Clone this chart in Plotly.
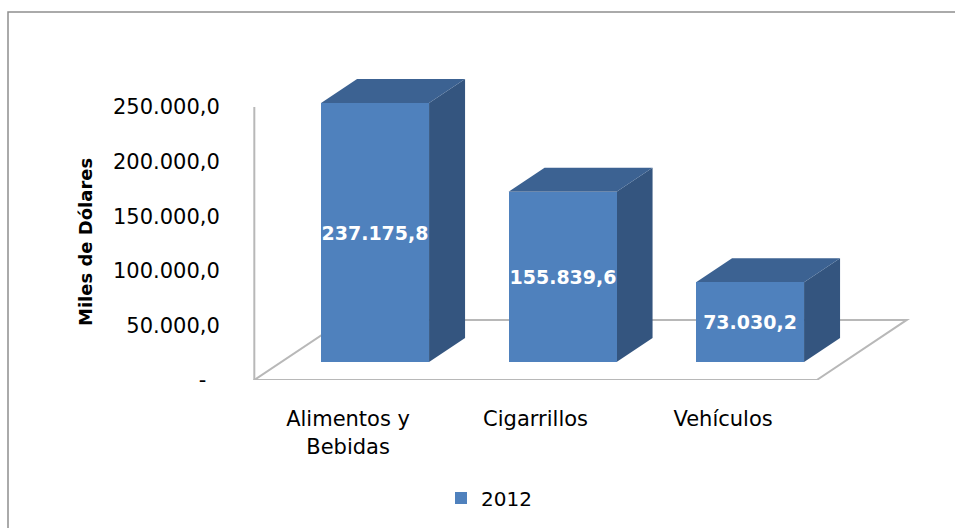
import plotly.graph_objects as go

# ---- data -------------------------------------------------------------
categories = ["Alimentos y<br>Bebidas", "Cigarrillos", "Vehículos"]
values = [237175.8, 155839.6, 73030.2]
series_name = "2012"
y_tick_values = [0, 50000, 100000, 150000, 200000, 250000]
y_tick_labels = ["-\u00a0\u00a0", "50.000,0", "100.000,0", "150.000,0", "200.000,0", "250.000,0"]
y_title = "Miles de Dólares"

# ---- styling / pseudo-3D geometry --------------------------------------
FRONT = "#4F81BD"
SIDE = "#34557F"
TOP = "#3C6292"
FLOOR = "#b8b8b8"
FONT = "DejaVu Sans"

FLOOR_DX = 0.48      # depth of the floor, x units
FLOOR_DY = 55000     # depth of the floor, y units
BAR_FRONT = 0.3      # bar front plane as a fraction of floor depth
BAR_BACK = 0.7       # bar back plane as a fraction of floor depth
BAR_W = 0.576

W, H = 955, 528
ML, MR, MT, MB = 253, 45, 60, 148
PW, PH = W - ML - MR, H - MT - MB
X_RANGE = [-0.507, 2.997]
Y_RANGE = [0, 293040]


def es_num(v):
    s = f"{v:,.1f}"
    return s.replace(",", "_").replace(".", ",").replace("_", ".")


x_pos = list(range(len(values)))
base = BAR_FRONT * FLOOR_DY
off_x = BAR_FRONT * FLOOR_DX
dx = (BAR_BACK - BAR_FRONT) * FLOOR_DX
dy = (BAR_BACK - BAR_FRONT) * FLOOR_DY

fig = go.Figure()
fig.add_trace(go.Bar(
    x=x_pos, y=values, base=base,
    width=BAR_W, offset=off_x - BAR_W / 2,
    marker=dict(color=FRONT, line=dict(width=0)),
    name=series_name,
    text=[es_num(v) for v in values],
    textposition="inside", insidetextanchor="middle",
    textangle=0, constraintext="none",
    textfont=dict(family=FONT, size=19, color="white", weight="bold"),
    hoverinfo="skip",
))

shapes = []

# floor and wall edge
x_lo, x_hi = -0.5, len(values) - 0.5
line = dict(color=FLOOR, width=2)
shapes.append(dict(type="path", layer="below", line=line,
                   path=(f"M{x_lo},0 L{x_hi},0 L{x_hi + FLOOR_DX},{FLOOR_DY} "
                         f"L{x_lo + FLOOR_DX},{FLOOR_DY} Z")))
shapes.append(dict(type="line", layer="below", line=line,
                   x0=x_lo, x1=x_lo, y0=0, y1=y_tick_values[-1]))

# side and top faces of each bar
for x, v in zip(x_pos, values):
    xl = x + off_x - BAR_W / 2
    xr = xl + BAR_W
    top = base + v
    shapes.append(dict(type="path", layer="below", fillcolor=SIDE, line=dict(width=0),
                       path=(f"M{xr},{base} L{xr + dx},{base + dy} "
                             f"L{xr + dx},{top + dy} L{xr},{top} Z")))
    shapes.append(dict(type="path", layer="below", fillcolor=TOP, line=dict(width=0),
                       path=(f"M{xl},{top} L{xr},{top} "
                             f"L{xr + dx},{top + dy} L{xl + dx},{top + dy} Z")))

# chart-area frame
shapes.append(dict(type="rect", xref="paper", yref="paper", layer="below",
                   x0=(8 - ML) / PW, x1=(W + 10 - ML) / PW,
                   y0=(MT + PH - (H + 10)) / PH, y1=(MT + PH - 12) / PH,
                   line=dict(color="#8f8f8f", width=1.5)))

fig.update_layout(
    width=W, height=H,
    margin=dict(l=ML, r=MR, t=MT, b=MB, autoexpand=False),
    paper_bgcolor="white", plot_bgcolor="rgba(0,0,0,0)",
    font=dict(family=FONT, size=21, color="black"),
    shapes=shapes,
    bargap=0,
    showlegend=True,
    legend=dict(orientation="h", x=(441 - ML) / PW, xanchor="left",
                y=(PH + MT - 498) / PH, yanchor="middle",
                font=dict(family=FONT, size=20, color="black"),
                bgcolor="rgba(0,0,0,0)"),
    annotations=[dict(text=f"<b>{y_title}</b>", textangle=-90, showarrow=False,
                      xref="paper", yref="paper",
                      x=(85 - ML) / PW, y=(MT + PH - 242) / PH,
                      xanchor="center", yanchor="middle",
                      font=dict(family=FONT, size=18, color="black"))],
    xaxis=dict(range=X_RANGE, tickvals=x_pos, ticktext=categories,
               showgrid=False, zeroline=False, showline=False,
               ticks="outside", ticklen=20, tickcolor="rgba(0,0,0,0)",
               tickfont=dict(family=FONT, size=21), fixedrange=True),
    yaxis=dict(range=Y_RANGE, tickvals=y_tick_values, ticktext=y_tick_labels,
               showgrid=False, zeroline=False, showline=False,
               ticks="outside", ticklen=28, tickcolor="rgba(0,0,0,0)",
               tickfont=dict(family=FONT, size=21),
               fixedrange=True),
)

fig.write_html("out.html")
